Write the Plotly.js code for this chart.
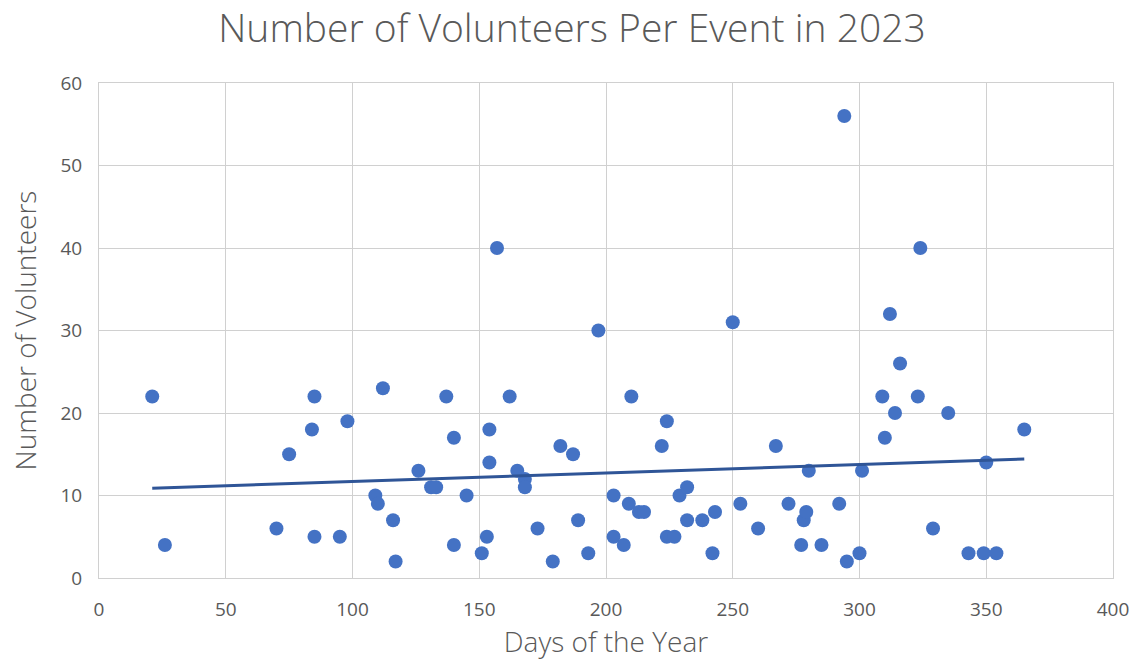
<!DOCTYPE html>
<html>
<head>
<meta charset="utf-8">
<script src="https://cdn.plot.ly/plotly-3.0.1.min.js"></script>
<style>html,body{margin:0;padding:0;background:#fff;}#chart{width:1144px;height:660px;}</style>
</head>
<body>
<div id="chart"></div>
<script>
const days = [21,26,70,75,84,85,85,95,98,109,110,112,116,117,126,131,133,137,140,140,145,151,153,154,154,157,162,165,168,168,173,179,182,187,189,193,197,203,203,207,209,210,213,215,222,224,224,227,229,232,232,238,242,243,250,253,260,267,272,277,278,279,280,285,292,294,295,300,301,309,310,312,314,316,323,324,329,335,343,349,350,354,365];
const volunteers = [22,4,6,15,18,22,5,5,19,10,9,23,7,2,13,11,11,22,17,4,10,3,5,18,14,40,22,13,12,11,6,2,16,15,7,3,30,10,5,4,9,22,8,8,16,19,5,5,10,11,7,7,3,8,31,9,6,16,9,4,7,8,13,4,9,56,2,3,13,22,17,32,20,26,22,40,6,20,3,3,14,3,18];
const titleText = "Number of Volunteers Per Event in 2023";
const xTitle = "Days of the Year";
const yTitle = "Number of Volunteers";

// linear trendline (least squares) from the data
const n = days.length;
const mx = days.reduce((a,b)=>a+b,0)/n;
const my = volunteers.reduce((a,b)=>a+b,0)/n;
let sxy=0, sxx=0;
for (let i=0;i<n;i++){ sxy+=(days[i]-mx)*(volunteers[i]-my); sxx+=(days[i]-mx)**2; }
const slope = sxy/sxx, icpt = my - slope*mx;
const xMin = Math.min(...days), xMax = Math.max(...days);
const trendX = [xMin, xMax];
const trendY = trendX.map(x => icpt + slope*x);

const font = "'Open Sans', sans-serif";
const grey = '#595959';
const data = [
  {x: days, y: volunteers, type:'scatter', mode:'markers',
   marker:{color:'#4472C4', size:14}, hoverinfo:'x+y', showlegend:false},
  {x: trendX, y: trendY, type:'scatter', mode:'lines',
   line:{color:'#2F5597', width:3}, hoverinfo:'skip', showlegend:false}
];
const layout = {
  width:1144, height:660,
  margin:{l:99, r:31, t:83, b:82},
  paper_bgcolor:'#fff', plot_bgcolor:'#fff',
  font:{family:font, color:grey},
  title:{text:titleText, x:0.5, xanchor:'center', y:0.957, yanchor:'middle',
         font:{family:font, size:39, weight:300, color:grey}},
  xaxis:{range:[0,400], dtick:50, tick0:0, showgrid:true, gridcolor:'#D0D0D0', gridwidth:1,
         showline:true, mirror:true, linecolor:'#D0D0D0', linewidth:1, zeroline:false,
         ticks:'', ticklabelstandoff:14, tickfont:{size:19, weight:400, color:grey, family:font},
         title:{text:xTitle, standoff:16, font:{size:28, weight:300, color:grey, family:font}}},
  yaxis:{range:[0,60], dtick:10, tick0:0, showgrid:true, gridcolor:'#D0D0D0', gridwidth:1,
         showline:true, mirror:true, linecolor:'#D0D0D0', linewidth:1,
         zeroline:true, zerolinecolor:'#BFBFBF', zerolinewidth:2,
         ticks:'', ticklabelstandoff:12, tickfont:{size:19, weight:400, color:grey, family:font},
         title:{text:yTitle, standoff:15, font:{size:28, weight:300, color:grey, family:font}}}
};
Plotly.newPlot('chart', data, layout, {displayModeBar:false, staticPlot:true});
</script>
</body>
</html>
